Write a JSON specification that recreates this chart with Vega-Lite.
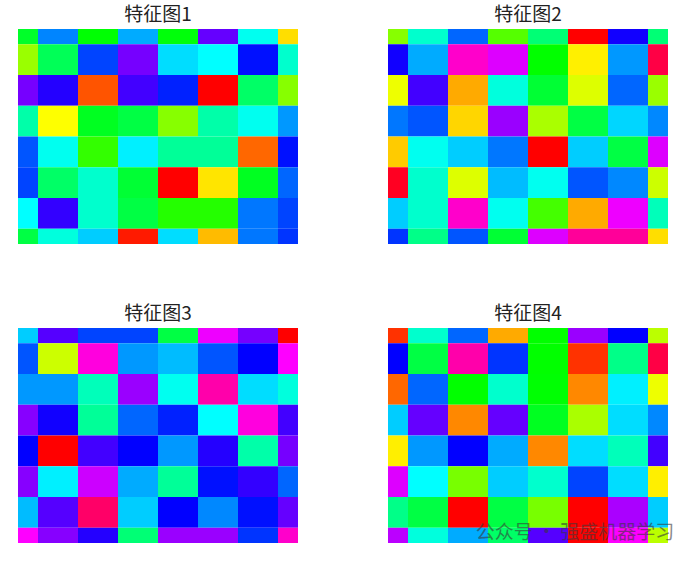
{
"$schema":"https://vega.github.io/schema/vega-lite/v6.json",
"padding":{"left":18,"top":6,"right":0,"bottom":0},
"background":"white",
"config":{"view":{"stroke":null},"title":{"fontSize":19,"font":"Noto Sans CJK SC","fontWeight":"normal","color":"#222222","anchor":"middle","offset":4}},
"datasets":{
"d1":[
{"r":0,"c":0,"v":0.36},{"r":0,"c":1,"v":0.58},{"r":0,"c":2,"v":0.335},{"r":0,"c":3,"v":0.555},{"r":0,"c":4,"v":0.34},{"r":0,"c":5,"v":0.733},{"r":0,"c":6,"v":0.49},{"r":0,"c":7,"v":0.145},
{"r":1,"c":0,"v":0.233},{"r":1,"c":1,"v":0.39},{"r":1,"c":2,"v":0.622},{"r":1,"c":3,"v":0.744},{"r":1,"c":4,"v":0.522},{"r":1,"c":5,"v":0.5},{"r":1,"c":6,"v":0.656},{"r":1,"c":7,"v":0.467},
{"r":2,"c":0,"v":0.744},{"r":2,"c":1,"v":0.69},{"r":2,"c":2,"v":0.055},{"r":2,"c":3,"v":0.71},{"r":2,"c":4,"v":0.645},{"r":2,"c":5,"v":0.0},{"r":2,"c":6,"v":0.4},{"r":2,"c":7,"v":0.245},
{"r":3,"c":0,"v":0.444},{"r":3,"c":1,"v":0.167},{"r":3,"c":2,"v":0.355},{"r":3,"c":3,"v":0.378},{"r":3,"c":4,"v":0.245},{"r":3,"c":5,"v":0.444},{"r":3,"c":6,"v":0.49},{"r":3,"c":7,"v":0.567},
{"r":4,"c":0,"v":0.611},{"r":4,"c":1,"v":0.49},{"r":4,"c":2,"v":0.3},{"r":4,"c":3,"v":0.51},{"r":4,"c":4,"v":0.433},{"r":4,"c":5,"v":0.433},{"r":4,"c":6,"v":0.067},{"r":4,"c":7,"v":0.656},
{"r":5,"c":0,"v":0.622},{"r":5,"c":1,"v":0.4},{"r":5,"c":2,"v":0.467},{"r":5,"c":3,"v":0.367},{"r":5,"c":4,"v":0.0},{"r":5,"c":5,"v":0.15},{"r":5,"c":6,"v":0.355},{"r":5,"c":7,"v":0.6},
{"r":6,"c":0,"v":0.5},{"r":6,"c":1,"v":0.7},{"r":6,"c":2,"v":0.467},{"r":6,"c":3,"v":0.378},{"r":6,"c":4,"v":0.31},{"r":6,"c":5,"v":0.31},{"r":6,"c":6,"v":0.589},{"r":6,"c":7,"v":0.622},
{"r":7,"c":0,"v":0.378},{"r":7,"c":1,"v":0.478},{"r":7,"c":2,"v":0.533},{"r":7,"c":3,"v":0.017},{"r":7,"c":4,"v":0.522},{"r":7,"c":5,"v":0.122},{"r":7,"c":6,"v":0.589},{"r":7,"c":7,"v":0.633}
],
"d2":[
{"r":0,"c":0,"v":0.245},{"r":0,"c":1,"v":0.467},{"r":0,"c":2,"v":0.6},{"r":0,"c":3,"v":0.278},{"r":0,"c":4,"v":0.41},{"r":0,"c":5,"v":0.0},{"r":0,"c":6,"v":0.678},{"r":0,"c":7,"v":0.41},
{"r":1,"c":0,"v":0.678},{"r":1,"c":1,"v":0.555},{"r":1,"c":2,"v":0.867},{"r":1,"c":3,"v":0.811},{"r":1,"c":4,"v":0.333},{"r":1,"c":5,"v":0.157},{"r":1,"c":6,"v":0.567},{"r":1,"c":7,"v":0.955},
{"r":2,"c":0,"v":0.178},{"r":2,"c":1,"v":0.71},{"r":2,"c":2,"v":0.111},{"r":2,"c":3,"v":0.478},{"r":2,"c":4,"v":0.367},{"r":2,"c":5,"v":0.189},{"r":2,"c":6,"v":0.6},{"r":2,"c":7,"v":0.233},
{"r":3,"c":0,"v":0.589},{"r":3,"c":1,"v":0.611},{"r":3,"c":2,"v":0.14},{"r":3,"c":3,"v":0.767},{"r":3,"c":4,"v":0.222},{"r":3,"c":5,"v":0.378},{"r":3,"c":6,"v":0.527},{"r":3,"c":7,"v":0.578},
{"r":4,"c":0,"v":0.133},{"r":4,"c":1,"v":0.49},{"r":4,"c":2,"v":0.533},{"r":4,"c":3,"v":0.589},{"r":4,"c":4,"v":0.0},{"r":4,"c":5,"v":0.533},{"r":4,"c":6,"v":0.378},{"r":4,"c":7,"v":0.811},
{"r":5,"c":0,"v":0.978},{"r":5,"c":1,"v":0.467},{"r":5,"c":2,"v":0.189},{"r":5,"c":3,"v":0.544},{"r":5,"c":4,"v":0.49},{"r":5,"c":5,"v":0.611},{"r":5,"c":6,"v":0.578},{"r":5,"c":7,"v":0.2},
{"r":6,"c":0,"v":0.533},{"r":6,"c":1,"v":0.467},{"r":6,"c":2,"v":0.867},{"r":6,"c":3,"v":0.49},{"r":6,"c":4,"v":0.289},{"r":6,"c":5,"v":0.111},{"r":6,"c":6,"v":0.822},{"r":6,"c":7,"v":0.455},
{"r":7,"c":0,"v":0.633},{"r":7,"c":1,"v":0.422},{"r":7,"c":2,"v":0.611},{"r":7,"c":3,"v":0.367},{"r":7,"c":4,"v":0.811},{"r":7,"c":5,"v":0.9},{"r":7,"c":6,"v":0.9},{"r":7,"c":7,"v":0.145}
],
"d3":[
{"r":0,"c":0,"v":0.533},{"r":0,"c":1,"v":0.722},{"r":0,"c":2,"v":0.622},{"r":0,"c":3,"v":0.622},{"r":0,"c":4,"v":0.378},{"r":0,"c":5,"v":0.822},{"r":0,"c":6,"v":0.744},{"r":0,"c":7,"v":0.0},
{"r":1,"c":0,"v":0.611},{"r":1,"c":1,"v":0.2},{"r":1,"c":2,"v":0.855},{"r":1,"c":3,"v":0.567},{"r":1,"c":4,"v":0.544},{"r":1,"c":5,"v":0.611},{"r":1,"c":6,"v":0.667},{"r":1,"c":7,"v":0.833},
{"r":2,"c":0,"v":0.567},{"r":2,"c":1,"v":0.567},{"r":2,"c":2,"v":0.455},{"r":2,"c":3,"v":0.767},{"r":2,"c":4,"v":0.49},{"r":2,"c":5,"v":0.889},{"r":2,"c":6,"v":0.522},{"r":2,"c":7,"v":0.478},
{"r":3,"c":0,"v":0.755},{"r":3,"c":1,"v":0.678},{"r":3,"c":2,"v":0.433},{"r":3,"c":3,"v":0.6},{"r":3,"c":4,"v":0.645},{"r":3,"c":5,"v":0.5},{"r":3,"c":6,"v":0.855},{"r":3,"c":7,"v":0.71},
{"r":4,"c":0,"v":0.667},{"r":4,"c":1,"v":0.0},{"r":4,"c":2,"v":0.71},{"r":4,"c":3,"v":0.667},{"r":4,"c":4,"v":0.567},{"r":4,"c":5,"v":0.69},{"r":4,"c":6,"v":0.444},{"r":4,"c":7,"v":0.744},
{"r":5,"c":0,"v":0.755},{"r":5,"c":1,"v":0.51},{"r":5,"c":2,"v":0.8},{"r":5,"c":3,"v":0.555},{"r":5,"c":4,"v":0.433},{"r":5,"c":5,"v":0.656},{"r":5,"c":6,"v":0.7},{"r":5,"c":7,"v":0.6},
{"r":6,"c":0,"v":0.544},{"r":6,"c":1,"v":0.722},{"r":6,"c":2,"v":0.933},{"r":6,"c":3,"v":0.533},{"r":6,"c":4,"v":0.667},{"r":6,"c":5,"v":0.578},{"r":6,"c":6,"v":0.656},{"r":6,"c":7,"v":0.733},
{"r":7,"c":0,"v":0.833},{"r":7,"c":1,"v":0.755},{"r":7,"c":2,"v":0.69},{"r":7,"c":3,"v":0.41},{"r":7,"c":4,"v":0.767},{"r":7,"c":5,"v":0.767},{"r":7,"c":6,"v":0.633},{"r":7,"c":7,"v":0.867}
],
"d4":[
{"r":0,"c":0,"v":0.033},{"r":0,"c":1,"v":0.467},{"r":0,"c":2,"v":0.6},{"r":0,"c":3,"v":0.111},{"r":0,"c":4,"v":0.333},{"r":0,"c":5,"v":0.767},{"r":0,"c":6,"v":0.667},{"r":0,"c":7,"v":0.211},
{"r":1,"c":0,"v":0.667},{"r":1,"c":1,"v":0.378},{"r":1,"c":2,"v":0.889},{"r":1,"c":3,"v":0.633},{"r":1,"c":4,"v":0.333},{"r":1,"c":5,"v":0.033},{"r":1,"c":6,"v":0.422},{"r":1,"c":7,"v":0.955},
{"r":2,"c":0,"v":0.067},{"r":2,"c":1,"v":0.6},{"r":2,"c":2,"v":0.333},{"r":2,"c":3,"v":0.467},{"r":2,"c":4,"v":0.335},{"r":2,"c":5,"v":0.089},{"r":2,"c":6,"v":0.51},{"r":2,"c":7,"v":0.178},
{"r":3,"c":0,"v":0.533},{"r":3,"c":1,"v":0.733},{"r":3,"c":2,"v":0.089},{"r":3,"c":3,"v":0.733},{"r":3,"c":4,"v":0.355},{"r":3,"c":5,"v":0.222},{"r":3,"c":6,"v":0.522},{"r":3,"c":7,"v":0.578},
{"r":4,"c":0,"v":0.156},{"r":4,"c":1,"v":0.567},{"r":4,"c":2,"v":0.667},{"r":4,"c":3,"v":0.555},{"r":4,"c":4,"v":0.089},{"r":4,"c":5,"v":0.522},{"r":4,"c":6,"v":0.455},{"r":4,"c":7,"v":0.71},
{"r":5,"c":0,"v":0.811},{"r":5,"c":1,"v":0.5},{"r":5,"c":2,"v":0.255},{"r":5,"c":3,"v":0.533},{"r":5,"c":4,"v":0.467},{"r":5,"c":5,"v":0.622},{"r":5,"c":6,"v":0.522},{"r":5,"c":7,"v":0.156},
{"r":6,"c":0,"v":0.422},{"r":6,"c":1,"v":0.378},{"r":6,"c":2,"v":0.0},{"r":6,"c":3,"v":0.378},{"r":6,"c":4,"v":0.255},{"r":6,"c":5,"v":0.0},{"r":6,"c":6,"v":0.778},{"r":6,"c":7,"v":0.533},
{"r":7,"c":0,"v":0.789},{"r":7,"c":1,"v":0.478},{"r":7,"c":2,"v":0.555},{"r":7,"c":3,"v":0.4},{"r":7,"c":4,"v":0.722},{"r":7,"c":5,"v":0.0},{"r":7,"c":6,"v":0.833},{"r":7,"c":7,"v":0.211}
]
},
"columns":2,
"spacing":{"row":61,"column":90},
"concat":[
{"title":"特征图1","data":{"name":"d1"},"width":280,"height":215,"mark":{"type":"rect","clip":true},
 "encoding":{"x":{"field":"c","type":"ordinal","axis":null,"scale":{"range":[-20,300],"paddingInner":0,"paddingOuter":0}},
 "y":{"field":"r","type":"ordinal","axis":null,"scale":{"range":[-15.357,230.357],"paddingInner":0,"paddingOuter":0}},
 "color":{"field":"v","type":"quantitative","legend":null,"scale":{"type":"linear","domain":[0,0.16667,0.33333,0.5,0.66667,0.83333,1],"range":["#ff0000","#ffff00","#00ff00","#00ffff","#0000ff","#ff00ff","#ff0000"],"interpolate":"rgb"}}}},
{"title":"特征图2","data":{"name":"d2"},"width":280,"height":215,"mark":{"type":"rect","clip":true},
 "encoding":{"x":{"field":"c","type":"ordinal","axis":null,"scale":{"range":[-20,300],"paddingInner":0,"paddingOuter":0}},
 "y":{"field":"r","type":"ordinal","axis":null,"scale":{"range":[-15.357,230.357],"paddingInner":0,"paddingOuter":0}},
 "color":{"field":"v","type":"quantitative","legend":null,"scale":{"type":"linear","domain":[0,0.16667,0.33333,0.5,0.66667,0.83333,1],"range":["#ff0000","#ffff00","#00ff00","#00ffff","#0000ff","#ff00ff","#ff0000"],"interpolate":"rgb"}}}},
{"title":"特征图3","data":{"name":"d3"},"width":280,"height":215,"mark":{"type":"rect","clip":true},
 "encoding":{"x":{"field":"c","type":"ordinal","axis":null,"scale":{"range":[-20,300],"paddingInner":0,"paddingOuter":0}},
 "y":{"field":"r","type":"ordinal","axis":null,"scale":{"range":[-15.357,230.357],"paddingInner":0,"paddingOuter":0}},
 "color":{"field":"v","type":"quantitative","legend":null,"scale":{"type":"linear","domain":[0,0.16667,0.33333,0.5,0.66667,0.83333,1],"range":["#ff0000","#ffff00","#00ff00","#00ffff","#0000ff","#ff00ff","#ff0000"],"interpolate":"rgb"}}}},
{"title":"特征图4","data":{"name":"d4"},"width":280,"height":215,
 "encoding":{"x":{"field":"c","type":"ordinal","axis":null,"scale":{"range":[-20,300],"paddingInner":0,"paddingOuter":0}},
 "y":{"field":"r","type":"ordinal","axis":null,"scale":{"range":[-15.357,230.357],"paddingInner":0,"paddingOuter":0}}},
 "layer":[
  {"mark":{"type":"rect","clip":true},
   "encoding":{"color":{"field":"v","type":"quantitative","legend":null,"scale":{"type":"linear","domain":[0,0.16667,0.33333,0.5,0.66667,0.83333,1],"range":["#ff0000","#ffff00","#00ff00","#00ffff","#0000ff","#ff00ff","#ff0000"],"interpolate":"rgb"}}}},
  {"data":{"values":[{"t":"公众号 · 强盛机器学习"}]},
   "mark":{"type":"text","font":"Noto Sans CJK SC","fontSize":19,"color":"#3a3a3a","opacity":0.6,"dx":-13,"dy":-10,"clip":false},
   "encoding":{"x":{"datum":5},"y":{"datum":7},"text":{"field":"t"}}}
 ]}
]
}
